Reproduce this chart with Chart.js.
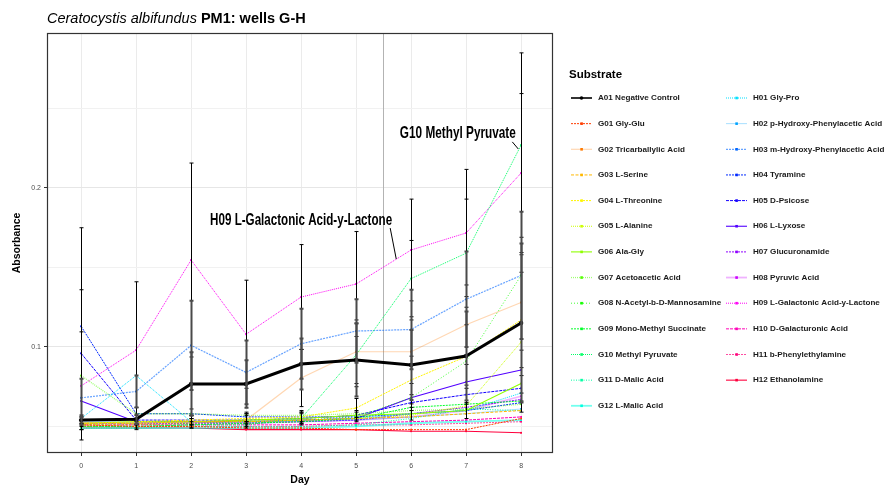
<!DOCTYPE html>
<html>
<head>
<meta charset="utf-8">
<script src="https://cdn.jsdelivr.net/npm/chart.js@4/dist/chart.umd.min.js"></script>
<style>
  html, body { margin: 0; padding: 0; background: #ffffff; }
  canvas { display: block; }
</style>
</head>
<body>
<canvas id="chart" width="885" height="489"></canvas>
<script>
// Sampling days
const days = [0, 1, 2, 3, 4, 5, 6, 7, 8];

// Mean absorbance per substrate, one value per day
const A01 = [0.0540, 0.0545, 0.0767, 0.0767, 0.0893, 0.0918, 0.0887, 0.0943, 0.1151];
const G01 = [0.051, 0.050, 0.050, 0.049, 0.049, 0.048, 0.048, 0.048, 0.055];
const G02 = [0.050, 0.051, 0.052, 0.054, 0.0805, 0.097, 0.097, 0.114, 0.128];
const G03 = [0.052, 0.052, 0.053, 0.053, 0.054, 0.055, 0.056, 0.058, 0.060];
const G04 = [0.052, 0.053, 0.054, 0.055, 0.056, 0.0616, 0.0792, 0.094, 0.117];
const G05 = [0.051, 0.052, 0.053, 0.053, 0.054, 0.055, 0.057, 0.063, 0.103];
const G06 = [0.052, 0.053, 0.053, 0.054, 0.055, 0.057, 0.058, 0.060, 0.077];
const G07 = [0.082, 0.058, 0.058, 0.057, 0.057, 0.058, 0.060, 0.061, 0.064];
const G08 = [0.051, 0.051, 0.052, 0.053, 0.054, 0.056, 0.068, 0.091, 0.145];
const G09 = [0.050, 0.050, 0.051, 0.052, 0.053, 0.055, 0.062, 0.064, 0.066];
const G10 = [0.050, 0.050, 0.051, 0.051, 0.055, 0.095, 0.143, 0.159, 0.227];
const G11 = [0.049, 0.049, 0.050, 0.050, 0.050, 0.051, 0.055, 0.061, 0.060];
const G12 = [0.049, 0.049, 0.049, 0.049, 0.049, 0.050, 0.052, 0.053, 0.054];
const H01 = [0.055, 0.082, 0.053, 0.053, 0.054, 0.055, 0.058, 0.060, 0.071];
const H02 = [0.053, 0.053, 0.053, 0.053, 0.053, 0.054, 0.056, 0.058, 0.061];
const H03 = [0.068, 0.072, 0.101, 0.084, 0.102, 0.110, 0.111, 0.130, 0.145];
const H04 = [0.113, 0.058, 0.058, 0.056, 0.056, 0.056, 0.058, 0.060, 0.065];
const H05 = [0.096, 0.054, 0.054, 0.054, 0.055, 0.057, 0.065, 0.070, 0.074];
const H06 = [0.066, 0.053, 0.053, 0.053, 0.054, 0.055, 0.068, 0.078, 0.0855];
const H07 = [0.052, 0.052, 0.052, 0.052, 0.053, 0.054, 0.058, 0.062, 0.067];
const H08 = [0.052, 0.052, 0.053, 0.052, 0.053, 0.054, 0.056, 0.060, 0.069];
const H09 = [0.0755, 0.098, 0.1547, 0.108, 0.1314, 0.1396, 0.161, 0.1717, 0.2094];
const H10 = [0.051, 0.051, 0.051, 0.051, 0.051, 0.052, 0.053, 0.054, 0.056];
const H11 = [0.050, 0.050, 0.050, 0.050, 0.050, 0.051, 0.051, 0.052, 0.053];
const H12 = [0.049, 0.049, 0.049, 0.048, 0.048, 0.048, 0.047, 0.047, 0.046];

// Standard deviations for the substrates that carry error bars
const sdA01 = [0.003, 0.003, 0.020, 0.015, 0.016, 0.023, 0.022, 0.028, 0.050];
const sdG02 = [0.002, 0.002, 0.003, 0.004, 0.018, 0.020, 0.020, 0.025, 0.030];
const sdG04 = [0.002, 0.002, 0.003, 0.003, 0.004, 0.006, 0.015, 0.020, 0.030];
const sdG10 = [0.002, 0.002, 0.002, 0.002, 0.004, 0.020, 0.024, 0.034, 0.058];
const sdH03 = [0.012, 0.010, 0.028, 0.020, 0.022, 0.020, 0.025, 0.030, 0.040];
const sdH04 = [0.062, 0.004, 0.003, 0.003, 0.003, 0.003, 0.004, 0.005, 0.006];
const sdH05 = [0.040, 0.003, 0.003, 0.003, 0.003, 0.003, 0.005, 0.006, 0.008];
const sdH09 = [0.034, 0.043, 0.061, 0.034, 0.033, 0.033, 0.032, 0.040, 0.050];

const substrates = [
  'A01 Negative Control', 'G01 Gly-Glu', 'G02 Tricarballylic Acid', 'G03 L-Serine',
  'G04 L-Threonine', 'G05 L-Alanine', 'G06 Ala-Gly', 'G07 Acetoacetic Acid',
  'G08 N-Acetyl-b-D-Mannosamine', 'G09 Mono-Methyl Succinate', 'G10 Methyl Pyruvate',
  'G11 D-Malic Acid', 'G12 L-Malic Acid', 'H01 Gly-Pro', 'H02 p-Hydroxy-Phenylacetic Acid',
  'H03 m-Hydroxy-Phenylacetic Acid', 'H04 Tyramine', 'H05 D-Psicose', 'H06 L-Lyxose',
  'H07 Glucuronamide', 'H08 Pyruvic Acid', 'H09 L-Galactonic Acid-y-Lactone',
  'H10 D-Galacturonic Acid', 'H11 b-Phenylethylamine', 'H12 Ethanolamine'
];
const seriesValues = [A01, G01, G02, G03, G04, G05, G06, G07, G08, G09, G10, G11, G12,
                      H01, H02, H03, H04, H05, H06, H07, H08, H09, H10, H11, H12];

// Line appearance per substrate (colour, dash pattern, width, opacity)
const lineStyles = [
  { c: '#000000', d: [], w: 3, a: 1 },
  { c: '#FF3D00', d: [2, 1], w: 1, a: 1 },
  { c: '#FF7A00', d: [], w: 1.2, a: 0.3 },
  { c: '#FFB800', d: [3, 1.5], w: 1, a: 1 },
  { c: '#FFF500', d: [2, 1], w: 1, a: 1 },
  { c: '#CCFF00', d: [1, 1], w: 1, a: 1 },
  { c: '#8FFF00', d: [], w: 1.1, a: 1 },
  { c: '#52FF00', d: [1, 1], w: 1.3, a: 0.55 },
  { c: '#14FF00', d: [1, 2], w: 1, a: 0.8 },
  { c: '#00FF29', d: [2, 1], w: 1, a: 1 },
  { c: '#00FF66', d: [1, 1], w: 1, a: 1 },
  { c: '#00FFA3', d: [1, 1.5], w: 1, a: 1 },
  { c: '#00FFE0', d: [], w: 1.8, a: 0.55 },
  { c: '#00E0FF', d: [1, 1], w: 1, a: 1 },
  { c: '#00A3FF', d: [], w: 1, a: 0.35 },
  { c: '#0066FF', d: [2, 1], w: 1.2, a: 0.6 },
  { c: '#0029FF', d: [2, 1], w: 1, a: 1 },
  { c: '#1400FF', d: [3, 1], w: 1, a: 1 },
  { c: '#5200FF', d: [], w: 1.1, a: 1 },
  { c: '#8F00FF', d: [2, 1], w: 1, a: 1 },
  { c: '#CC00FF', d: [], w: 1.8, a: 0.3 },
  { c: '#FF00F5', d: [1, 1], w: 1, a: 1 },
  { c: '#FF00B8', d: [3, 1], w: 1, a: 1 },
  { c: '#FF007A', d: [2, 1], w: 1, a: 0.7 },
  { c: '#FF003D', d: [], w: 1.1, a: 1 }
];

// Error bar sets: mean, sd and bar weight
const errorSets = [
  { mean: H09, sd: sdH09, heavy: false },
  { mean: G10, sd: sdG10, heavy: false },
  { mean: H04, sd: sdH04, heavy: false },
  { mean: H05, sd: sdH05, heavy: false },
  { mean: G02, sd: sdG02, heavy: false },
  { mean: G04, sd: sdG04, heavy: false },
  { mean: H03, sd: sdH03, heavy: true },
  { mean: A01, sd: sdA01, heavy: true }
];

// Callout labels, in data units (day, absorbance)
const callouts = [
  { text: 'H09 L-Galactonic Acid-y-Lactone', at: [4.0, 0.1795], width: 182,
    from: [5.62, 0.1748], to: [5.73, 0.1553] },
  { text: 'G10 Methyl Pyruvate', at: [6.85, 0.2345], width: 116,
    from: [7.84, 0.2290], to: [7.95, 0.2245] }
];
const markerDay = 5.5;

const yTicks = [0.05, 0.1, 0.15, 0.2, 0.25];
const yLabelled = [0.1, 0.2];

const FONT = '"Liberation Sans", Arial, Helvetica, sans-serif';

function rgba(hex, a) {
  const n = parseInt(hex.slice(1), 16);
  return `rgba(${(n >> 16) & 255},${(n >> 8) & 255},${n & 255},${a})`;
}
const isLabelled = v => yLabelled.some(t => Math.abs(t - v) < 1e-9);

const datasets = seriesValues.map((vals, i) => {
  const s = lineStyles[i];
  return {
    label: substrates[i],
    data: days.map((d, k) => ({ x: d, y: vals[k] })),
    borderColor: rgba(s.c, s.a),
    backgroundColor: i === 0 ? '#000000' : s.c,
    borderWidth: s.w,
    borderDash: s.d,
    pointStyle: i === 0 ? 'circle' : 'rect',
    pointRadius: i === 0 ? 2.2 : 1.3,
    pointBorderWidth: 0,
    tension: 0,
    fill: false
  };
});

const decor = {
  id: 'decor',
  beforeDraw(chart) {
    const ctx = chart.ctx;
    ctx.save();
    ctx.fillStyle = '#ffffff';
    ctx.fillRect(0, 0, chart.width, chart.height);
    ctx.restore();
  },
  beforeDatasetsDraw(chart) {
    const { ctx, chartArea: a, scales: { x } } = chart;
    const px = Math.round(x.getPixelForValue(markerDay)) - 0.5;
    ctx.save();
    ctx.strokeStyle = '#b3b3b3';
    ctx.lineWidth = 1;
    ctx.beginPath();
    ctx.moveTo(px, a.top);
    ctx.lineTo(px, a.bottom);
    ctx.stroke();
    ctx.restore();
  },
  afterDatasetsDraw(chart) {
    const { ctx, chartArea: a, scales: { x, y } } = chart;
    ctx.save();
    ctx.beginPath();
    ctx.rect(a.left, a.top, a.right - a.left, a.bottom - a.top);
    ctx.clip();

    // error bars
    errorSets.forEach(set => {
      days.forEach((d, k) => {
        const cx = Math.round(x.getPixelForValue(d)) + 0.5;
        const top = y.getPixelForValue(set.mean[k] + set.sd[k]);
        const bot = y.getPixelForValue(set.mean[k] - set.sd[k]);
        ctx.strokeStyle = set.heavy ? '#4a4a4a' : '#000000';
        ctx.lineWidth = set.heavy ? 2 : 1;
        ctx.beginPath();
        ctx.moveTo(cx, top);
        ctx.lineTo(cx, bot);
        ctx.moveTo(cx - 2, top);
        ctx.lineTo(cx + 2, top);
        ctx.moveTo(cx - 2, bot);
        ctx.lineTo(cx + 2, bot);
        ctx.stroke();
      });
    });

    // callout labels with leader segments
    callouts.forEach(c => {
      ctx.strokeStyle = '#000000';
      ctx.lineWidth = 1;
      ctx.beginPath();
      ctx.moveTo(x.getPixelForValue(c.from[0]), y.getPixelForValue(c.from[1]));
      ctx.lineTo(x.getPixelForValue(c.to[0]), y.getPixelForValue(c.to[1]));
      ctx.stroke();
      const cx = x.getPixelForValue(c.at[0]);
      const cy = y.getPixelForValue(c.at[1]);
      ctx.font = `bold 17px ${FONT}`;
      const w = ctx.measureText(c.text).width;
      const sx = c.width / w;
      ctx.save();
      ctx.translate(cx, cy);
      ctx.scale(sx, 1);
      ctx.fillStyle = '#000000';
      ctx.textAlign = 'center';
      ctx.textBaseline = 'middle';
      ctx.fillText(c.text, 0, 0);
      ctx.restore();
    });
    ctx.restore();

    // panel border
    ctx.save();
    ctx.strokeStyle = '#333333';
    ctx.lineWidth = 1.2;
    ctx.strokeRect(a.left + 0.5, a.top + 0.5, a.right - a.left - 1, a.bottom - a.top - 1);
    ctx.restore();
  },
  afterDraw(chart) {
    const { ctx, chartArea: a } = chart;
    ctx.save();
    // title
    ctx.fillStyle = '#000000';
    ctx.textBaseline = 'alphabetic';
    ctx.textAlign = 'left';
    ctx.font = `italic 14.5px ${FONT}`;
    const italicPart = 'Ceratocystis albifundus';
    ctx.fillText(italicPart, 47, 23);
    const w1 = ctx.measureText(italicPart + ' ').width;
    ctx.font = `bold 14.5px ${FONT}`;
    ctx.fillText('PM1: wells G-H', 47 + w1, 23);

    // axis titles
    ctx.font = `bold 10.5px ${FONT}`;
    ctx.textAlign = 'center';
    ctx.textBaseline = 'middle';
    ctx.fillText('Day', (a.left + a.right) / 2, 480);
    ctx.save();
    ctx.translate(17, (a.top + a.bottom) / 2);
    ctx.rotate(-Math.PI / 2);
    ctx.fillText('Absorbance', 0, 0);
    ctx.restore();

    // legend
    ctx.textAlign = 'left';
    ctx.font = `bold 11.5px ${FONT}`;
    ctx.fillText('Substrate', 569, 75);
    ctx.font = `bold 8.1px ${FONT}`;
    substrates.forEach((name, i) => {
      const col = i < 13 ? 0 : 1;
      const row = i < 13 ? i : i - 13;
      const x0 = col === 0 ? 571 : 726;
      const yy = 98 + row * 25.65;
      const s = lineStyles[i];
      ctx.save();
      ctx.strokeStyle = rgba(s.c, s.a);
      ctx.lineWidth = i === 0 ? 1.6 : s.w;
      ctx.setLineDash(s.d);
      ctx.beginPath();
      ctx.moveTo(x0, yy);
      ctx.lineTo(x0 + 21, yy);
      ctx.stroke();
      ctx.setLineDash([]);
      ctx.fillStyle = i === 0 ? '#000000' : s.c;
      if (i === 0) {
        ctx.beginPath();
        ctx.arc(x0 + 10.5, yy, 1.8, 0, Math.PI * 2);
        ctx.fill();
      } else {
        ctx.fillRect(x0 + 9.3, yy - 1.3, 2.6, 2.6);
      }
      ctx.restore();
      ctx.fillStyle = '#1a1a1a';
      ctx.fillText(name, x0 + 27, yy);
    });
    ctx.restore();
  }
};

new Chart(document.getElementById('chart'), {
  type: 'line',
  data: { datasets },
  options: {
    responsive: false,
    animation: false,
    events: [],
    layout: { padding: { left: 0, top: 33, right: 332, bottom: 0 } },
    plugins: { legend: { display: false }, tooltip: { enabled: false }, title: { display: false } },
    scales: {
      x: {
        type: 'linear',
        min: -0.62,
        max: 8.58,
        afterBuildTicks: s => { s.ticks = days.map(v => ({ value: v })); },
        afterFit: s => { s.height = 36; },
        border: { display: false },
        grid: { color: '#ebebeb', lineWidth: 1, tickLength: 3, tickColor: '#333333' },
        ticks: {
          font: { size: 7, family: FONT }, color: '#4d4d4d', padding: 6,
          maxRotation: 0, autoSkip: false, callback: v => String(v)
        }
      },
      y: {
        type: 'linear',
        min: 0.0333,
        max: 0.2975,
        afterBuildTicks: s => { s.ticks = yTicks.map(v => ({ value: v })); },
        afterFit: s => { s.width = 47; },
        border: { display: false },
        grid: {
          color: c => (c.tick && isLabelled(c.tick.value)) ? '#e6e6e6' : '#f1f1f1',
          lineWidth: 1,
          tickLength: 3,
          tickColor: c => (c.tick && isLabelled(c.tick.value)) ? '#333333' : 'rgba(0,0,0,0)'
        },
        ticks: {
          font: { size: 7, family: FONT }, color: '#4d4d4d', padding: 3, autoSkip: false,
          callback: v => isLabelled(v) ? v.toFixed(1) : ''
        }
      }
    }
  },
  plugins: [decor]
});
</script>
</body>
</html>
